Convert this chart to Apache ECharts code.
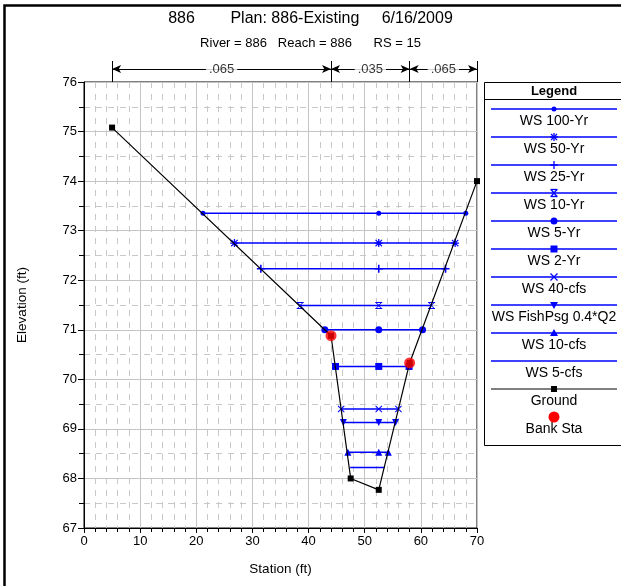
<!DOCTYPE html>
<html><head><meta charset="utf-8">
<script src="https://cdn.jsdelivr.net/npm/echarts@6/dist/echarts.min.js"></script>
<style>html,body{margin:0;padding:0;background:#fff}#c{width:621px;height:586px}</style>
</head><body><div id="c"></div>
<script>
// ---------------- data ----------------
const titleText = '886        Plan: 886-Existing     6/16/2009';
const subText = 'River = 886   Reach = 886      RS = 15';
const xAxisName = 'Station (ft)';
const yAxisName = 'Elevation (ft)';
const xMin = 0, xMax = 70, xStep = 10;
const yMin = 67, yMax = 76, yStep = 1;

const wsNames = ['WS 100-Yr', 'WS 50-Yr', 'WS 25-Yr', 'WS 10-Yr', 'WS 5-Yr', 'WS 2-Yr',
  'WS 40-cfs', 'WS FishPsg 0.4*Q2', 'WS 10-cfs', 'WS 5-cfs'];
const wsElev  = [73.35, 72.75, 72.23, 71.49, 71.00, 70.26, 69.40, 69.13, 68.53, 68.22];
const wsLeft  = [21.2, 26.8, 31.5, 38.5, 42.9, 44.8, 45.8, 46.2, 47.0, 47.4];
const wsMid   = [52.5, 52.5, 52.5, 52.5, 52.5, 52.5, 52.5, 52.5, 52.5, 52.5];
const wsRight = [68.0, 66.1, 64.4, 61.9, 60.3, 57.9, 56.0, 55.5, 54.2, 53.5];

const groundName = 'Ground';
const groundSta  = [5, 44, 47.5, 52.5, 58, 70];
const groundElev = [75.08, 70.88, 68.0, 67.77, 70.33, 74.0];

const bankName = 'Bank Sta';
const bankSta  = [44, 58];
const bankElev = [70.88, 70.33];

const nBreaks = [5, 44, 58, 70];
const nValues = ['.065', '.035', '.065'];

// ---------------- styles ----------------
const FONT = '"Liberation Sans", Arial, sans-serif';
const BLUE = '#0000ff';
const PLUS = 'path://M4,0H6V4H10V6H6V10H4V6H0V4H4Z';
const XMARK = 'path://M0,1L1,0L5,4L9,0L10,1L6,5L10,9L9,10L5,6L1,10L0,9L4,5Z';
const STAR = 'path://M4.2,0H5.8V4.2H10V5.8H5.8V10H4.2V5.8H0V4.2H4.2Z M0.5,1.5L1.5,0.5L5,4L8.5,0.5L9.5,1.5L6,5L9.5,8.5L8.5,9.5L5,6L1.5,9.5L0.5,8.5L4,5Z';
const HOURGLASS = 'path://M0,0H10V1.4H0Z M0,8.6H10V10H0Z M1,1.4H2.4L5,4L7.6,1.4H9L5.7,5L9,8.6H7.6L5,6L2.4,8.6H1L4.3,5Z';
const wsMarks = [
  { symbol: 'circle', size: 5, rot: 0, leg: 'dot' },
  { symbol: STAR, size: 8, rot: 0, leg: 'star' },
  { symbol: PLUS, size: 8, rot: 0, leg: 'plus' },
  { symbol: HOURGLASS, size: 7, rot: 0, leg: 'hourglass' },
  { symbol: 'circle', size: 7, rot: 0, leg: 'circle' },
  { symbol: 'rect', size: 7, rot: 0, leg: 'square' },
  { symbol: XMARK, size: 7, rot: 0, leg: 'x' },
  { symbol: 'triangle', size: 7, rot: 180, leg: 'tdown' },
  { symbol: 'triangle', size: 7, rot: 0, leg: 'tup' },
  { symbol: 'none', size: 0, rot: 0, leg: 'none' }
];

const chart = echarts.init(document.getElementById('c'), null, { renderer: 'canvas' });

const series = [];
wsNames.forEach((n, i) => {
  series.push({
    type: 'line', name: n, xAxisIndex: 0, yAxisIndex: 0, animation: false,
    data: [[wsLeft[i], wsElev[i]], [wsMid[i], wsElev[i]], [wsRight[i], wsElev[i]]],
    symbol: wsMarks[i].symbol, symbolSize: wsMarks[i].size, symbolRotate: wsMarks[i].rot,
    showAllSymbol: true, lineStyle: { color: BLUE, width: 1.5 }, itemStyle: { color: BLUE },
    z: 3
  });
});
series.push({
  type: 'line', name: groundName, xAxisIndex: 0, yAxisIndex: 0, animation: false,
  data: groundSta.map((s, i) => [s, groundElev[i]]),
  symbol: 'rect', symbolSize: 6, showAllSymbol: true,
  lineStyle: { color: '#000', width: 1.2 }, itemStyle: { color: '#000' }, z: 4
});
series.push({
  type: 'scatter', name: bankName, xAxisIndex: 0, yAxisIndex: 0, animation: false,
  data: bankSta.map((s, i) => [s, bankElev[i]]),
  symbol: 'circle', symbolSize: 11, itemStyle: { color: '#ff0000' }, z: 5
});
// n-value annotation row above plot
const ARROW_LEVEL = 0.62;
const mlData = [];
nBreaks.forEach(b => mlData.push([{ coord: [b, 0], symbol: 'none' }, { coord: [b, 1], symbol: 'none' }]));
for (let i = 0; i < nValues.length; i++) {
  mlData.push([{ coord: [nBreaks[i], ARROW_LEVEL] }, { coord: [nBreaks[i + 1], ARROW_LEVEL] }]);
}
series.push({
  type: 'line', xAxisIndex: 1, yAxisIndex: 1, data: [], animation: false, silent: true,
  markLine: {
    silent: true, animation: false, symbol: ['arrow', 'arrow'], symbolSize: [6, 9],
    lineStyle: { color: '#000', width: 1, type: 'solid' }, label: { show: false },
    data: mlData
  }
});
series.push({
  type: 'scatter', xAxisIndex: 1, yAxisIndex: 1, animation: false, silent: true, z: 6,
  symbol: 'circle', symbolSize: 2, itemStyle: { color: 'rgba(255,255,255,0)' },
  data: nValues.map((v, i) => ({ value: [(nBreaks[i] + nBreaks[i + 1]) / 2, ARROW_LEVEL], name: v })),
  label: { show: true, position: 'inside', formatter: p => p.name, color: '#000', fontSize: 13,
    fontFamily: FONT, backgroundColor: '#fff', padding: [1, 3] }
});

// legend drawn as graphic
const LX0 = 491, LX1 = 617, LCX = 554;
function markerEls(kind, cx, cy) {
  const ln = (x1, y1, x2, y2) => ({ type: 'line', shape: { x1: cx + x1, y1: cy + y1, x2: cx + x2, y2: cy + y2 }, style: { stroke: BLUE, lineWidth: 1.3 }, z: 12 });
  switch (kind) {
    case 'dot': return [{ type: 'circle', shape: { cx, cy, r: 2.5 }, style: { fill: BLUE }, z: 12 }];
    case 'circle': return [{ type: 'circle', shape: { cx, cy, r: 3.5 }, style: { fill: BLUE }, z: 12 }];
    case 'square': return [{ type: 'rect', shape: { x: cx - 3.5, y: cy - 3.5, width: 7, height: 7 }, style: { fill: BLUE }, z: 12 }];
    case 'plus': return [ln(0, -4, 0, 4), ln(-4, 0, 4, 0)];
    case 'x': return [ln(-3.5, -3.5, 3.5, 3.5), ln(-3.5, 3.5, 3.5, -3.5)];
    case 'star': return [ln(0, -4, 0, 4), ln(-4, 0, 4, 0), ln(-3, -3, 3, 3), ln(-3, 3, 3, -3)];
    case 'hourglass': return [ln(-3.5, -3.5, 3.5, -3.5), ln(-3.5, 3.5, 3.5, 3.5), ln(-3, -3.5, 3, 3.5), ln(-3, 3.5, 3, -3.5)];
    case 'tup': return [{ type: 'polygon', shape: { points: [[cx, cy - 4], [cx + 4, cy + 3], [cx - 4, cy + 3]] }, style: { fill: BLUE }, z: 12 }];
    case 'tdown': return [{ type: 'polygon', shape: { points: [[cx, cy + 4], [cx + 4, cy - 3], [cx - 4, cy - 3]] }, style: { fill: BLUE }, z: 12 }];
    case 'gsquare': return [{ type: 'rect', shape: { x: cx - 3, y: cy - 3, width: 6, height: 6 }, style: { fill: '#000' }, z: 12 }];
    case 'bank': return [{ type: 'circle', shape: { cx, cy, r: 5.5 }, style: { fill: '#ff0000' }, z: 12 }];
    default: return [];
  }
}
const graphics = [
  { type: 'rect', shape: { x: 4.5, y: 5.5, width: 700, height: 700 }, style: { fill: 'none', stroke: '#000', lineWidth: 2.5 }, z: 20, silent: true },
  { type: 'rect', shape: { x: 484.5, y: 82.5, width: 200, height: 363 }, style: { fill: '#fff', stroke: '#000', lineWidth: 1 }, z: 10, silent: true },
  { type: 'line', shape: { x1: 484.5, y1: 99.5, x2: 640, y2: 99.5 }, style: { stroke: '#000', lineWidth: 1 }, z: 11 },
  { type: 'text', x: LCX, y: 91, style: { text: 'Legend', fontSize: 13, fontWeight: 'bold', fontFamily: FONT, fill: '#000', textAlign: 'center', textVerticalAlign: 'middle' }, z: 11 }
];
const legendNames = [...wsNames, groundName, bankName];
legendNames.forEach((n, i) => {
  const ly = 109 + 28 * i;
  if (i < wsNames.length + 1) {
    const isG = i === wsNames.length;
    graphics.push({ type: 'line', shape: { x1: LX0, y1: ly, x2: LX1, y2: ly }, style: { stroke: isG ? '#000' : BLUE, lineWidth: isG ? 1 : 1.5 }, z: 11 });
    graphics.push(...markerEls(isG ? 'gsquare' : wsMarks[i].leg, LCX, ly));
  } else {
    graphics.push(...markerEls('bank', LCX, ly));
  }
  graphics.push({ type: 'text', x: LCX, y: ly + 12, style: { text: n, fontSize: 14, fontFamily: FONT, fill: '#000', textAlign: 'center', textVerticalAlign: 'middle' }, z: 11 });
});

const option = {
  backgroundColor: '#fff',
  animation: false,
  textStyle: { fontFamily: FONT },
  title: [
    { text: titleText, left: 'center', top: 6, textStyle: { fontSize: 16, fontWeight: 'normal', color: '#000', fontFamily: FONT } },
    { text: subText, left: 'center', top: 32, textStyle: { fontSize: 13, fontWeight: 'normal', color: '#000', fontFamily: FONT } }
  ],
  grid: [
    { left: 84, right: 144, top: 82, bottom: 58, show: true, borderColor: '#000', borderWidth: 1, backgroundColor: 'transparent' },
    { left: 84, right: 144, top: 61, height: 21, show: false }
  ],
  xAxis: [
    { type: 'value', gridIndex: 0, min: xMin, max: xMax, interval: xStep,
      name: xAxisName, nameLocation: 'middle', nameGap: 34,
      nameTextStyle: { fontSize: 13.5, color: '#000', fontFamily: FONT },
      axisLine: { show: true, onZero: false, lineStyle: { color: '#000', width: 1 } },
      axisTick: { show: true, length: 5, lineStyle: { color: '#000' } },
      minorTick: { show: true, splitNumber: 5, length: 4, lineStyle: { color: '#000' } },
      axisLabel: { fontSize: 13, color: '#000', margin: 7, fontFamily: FONT },
      splitLine: { show: true, lineStyle: { color: '#c4c4c4', width: 1 } },
      minorSplitLine: { show: true, lineStyle: { color: '#c8c8c8', width: 1, type: [6, 6] } } },
    { type: 'value', gridIndex: 1, min: xMin, max: xMax, show: false }
  ],
  yAxis: [
    { type: 'value', gridIndex: 0, min: yMin, max: yMax, interval: yStep,
      name: yAxisName, nameLocation: 'middle', nameGap: 55,
      nameTextStyle: { fontSize: 13.5, color: '#000', fontFamily: FONT },
      axisLine: { show: true, onZero: false, lineStyle: { color: '#000', width: 1 } },
      axisTick: { show: true, length: 6, lineStyle: { color: '#000' } },
      minorTick: { show: true, splitNumber: 2, length: 5, lineStyle: { color: '#000' } },
      axisLabel: { fontSize: 13, color: '#000', margin: 7, fontFamily: FONT },
      splitLine: { show: true, lineStyle: { color: '#c4c4c4', width: 1 } },
      minorSplitLine: { show: true, lineStyle: { color: '#c8c8c8', width: 1, type: [6, 6] } } },
    { type: 'value', gridIndex: 1, min: 0, max: 1, show: false }
  ],
  series: series,
  graphic: graphics
};
chart.setOption(option);
</script>
</body></html>
